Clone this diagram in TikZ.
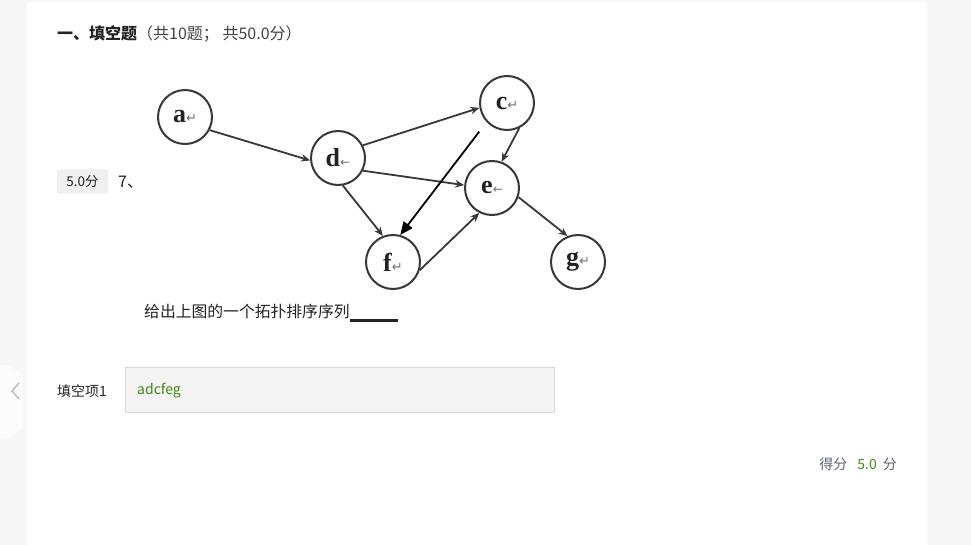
\documentclass[tikz,border=0pt]{standalone}
\usepackage{fontspec}
\setmainfont{Noto Sans CJK SC}
\newfontfamily\letterfont{Liberation Serif}
\newfontfamily\markfont{DejaVu Sans}
\usepackage{tikz}
\usetikzlibrary{arrows.meta}
\definecolor{pagegray}{HTML}{F7F7F7}
\definecolor{edgegray}{HTML}{383838}
\definecolor{marklight}{HTML}{707070}
\definecolor{textdark}{HTML}{222222}
\definecolor{parengray}{HTML}{444444}
\definecolor{badgegray}{HTML}{F0F0F0}
\definecolor{boxgray}{HTML}{F4F4F4}
\definecolor{boxborder}{HTML}{DADADA}
\definecolor{answergreen}{HTML}{3E8A12}
\definecolor{scoregray}{HTML}{5C6270}
\newcommand{\retmark}{{\markfont\fontsize{13pt}{13pt}\selectfont\textcolor{marklight}{↵}}}
\newcommand{\lftmark}{{\markfont\fontsize{12pt}{12pt}\selectfont\textcolor{marklight}{←}}}
\newcommand{\vlabel}[2]{\raisebox{-2pt}{{\letterfont\bfseries\fontsize{26pt}{26pt}\selectfont\textcolor{textdark}{#1}}#2}}
\begin{document}
\begin{tikzpicture}
            [every node/.style={inner sep=0pt},
             vertex/.style={circle, minimum size=54pt, fill=white, line width=2pt, draw=edgegray},
             arc/.style={line width=1.8pt, -{Stealth[length=9pt,width=7.5pt]}, color=edgegray},
             bigarc/.style={line width=1.8pt, -{Triangle[length=13pt,width=11pt]}, color=black},
             uitext/.style={anchor=west, text=textdark, font=\fontsize{15pt}{15pt}\selectfont}]
                \useasboundingbox (0pt,0pt) rectangle (971pt,-545pt);
                \fill [pagegray] (0pt,0pt) rectangle (971pt,-545pt);
                \fill [white, rounded corners=4pt] (27pt,-2pt) rectangle (927pt,-560pt);
                \fill [white!60!pagegray] (0pt,-365pt) -- (8pt,-365pt) -- (23pt,-375pt) -- (23pt,-428pt) -- (8pt,-438pt) -- (0pt,-438pt) -- cycle;
                \draw [line width=1.1pt, color=boxborder!80!black] (19pt,-383pt) -- (12pt,-391pt) -- (19pt,-399pt);
                \node (title) [uitext, font=\fontsize{16pt}{16pt}\selectfont] at (57pt,-34pt) {\textbf{一、填空题}\textcolor{parengray}{（共10题； 共50.0分）}};
                \node (badge) [fill=badgegray, rounded corners=2pt, minimum width=51pt, minimum height=24pt, text=textdark, font=\fontsize{13.5pt}{13.5pt}\selectfont] at (82.5pt,-181.5pt) {5.0分};
                \node (qnum) [uitext, font=\fontsize{16pt}{16pt}\selectfont] at (118pt,-182pt) {7、};
                \node (a) [vertex] at (185pt, -117pt) {\vlabel{a}{\retmark}};
                \node (d) [vertex] at (338pt, -158pt) {\vlabel{d}{\lftmark}};
                \node (c) [vertex] at (507pt, -103pt) {\vlabel{c}{\retmark}};
                \node (e) [vertex] at (492pt, -188pt) {\vlabel{e}{\lftmark}};
                \node (f) [vertex] at (393pt, -262pt) {\vlabel{f}{\retmark}};
                \node (g) [vertex] at (578pt, -262pt) {\vlabel{g}{\retmark}};
                \draw [arc] (a.-28) to (d.185);
                \draw [arc] (d.27) to (c.190);
                \draw [arc] (d.-27) to (e.174);
                \draw [arc] (d.-80) to (f.111);
                \draw [arc] (c.-64) to (e.70);
                \draw [bigarc, shorten <=12pt] (c.-137) to (f.75);
                \draw [arc] (f.-17) to (e.-117);
                \draw [arc] (e.-19) to (g.112);
                \node (question) [uitext, font=\fontsize{15.8pt}{15.8pt}\selectfont] at (144pt,-313pt) {给出上图的一个拓扑排序序列\rule[-4pt]{48pt}{2.2pt}};
                \node (fieldname) [uitext, font=\fontsize{14pt}{14pt}\selectfont] at (57pt,-391pt) {填空项1};
                \node (answerbox) [anchor=north west, draw=boxborder, fill=boxgray, line width=0.8pt, minimum width=429pt, minimum height=45pt] at (125pt,-367pt) {};
                \node (answer) [uitext, text=answergreen, font=\fontsize{14pt}{14pt}\selectfont] at (137pt,-391pt) {adcfeg};
                \node (score) [anchor=east, font=\fontsize{14pt}{14pt}\selectfont] at (897pt,-464pt) {\textcolor{scoregray}{得分}\hspace{10pt}\textcolor{answergreen}{5.0}\hspace{6pt}\textcolor{scoregray}{分}};
            \end{tikzpicture}
\end{document}
